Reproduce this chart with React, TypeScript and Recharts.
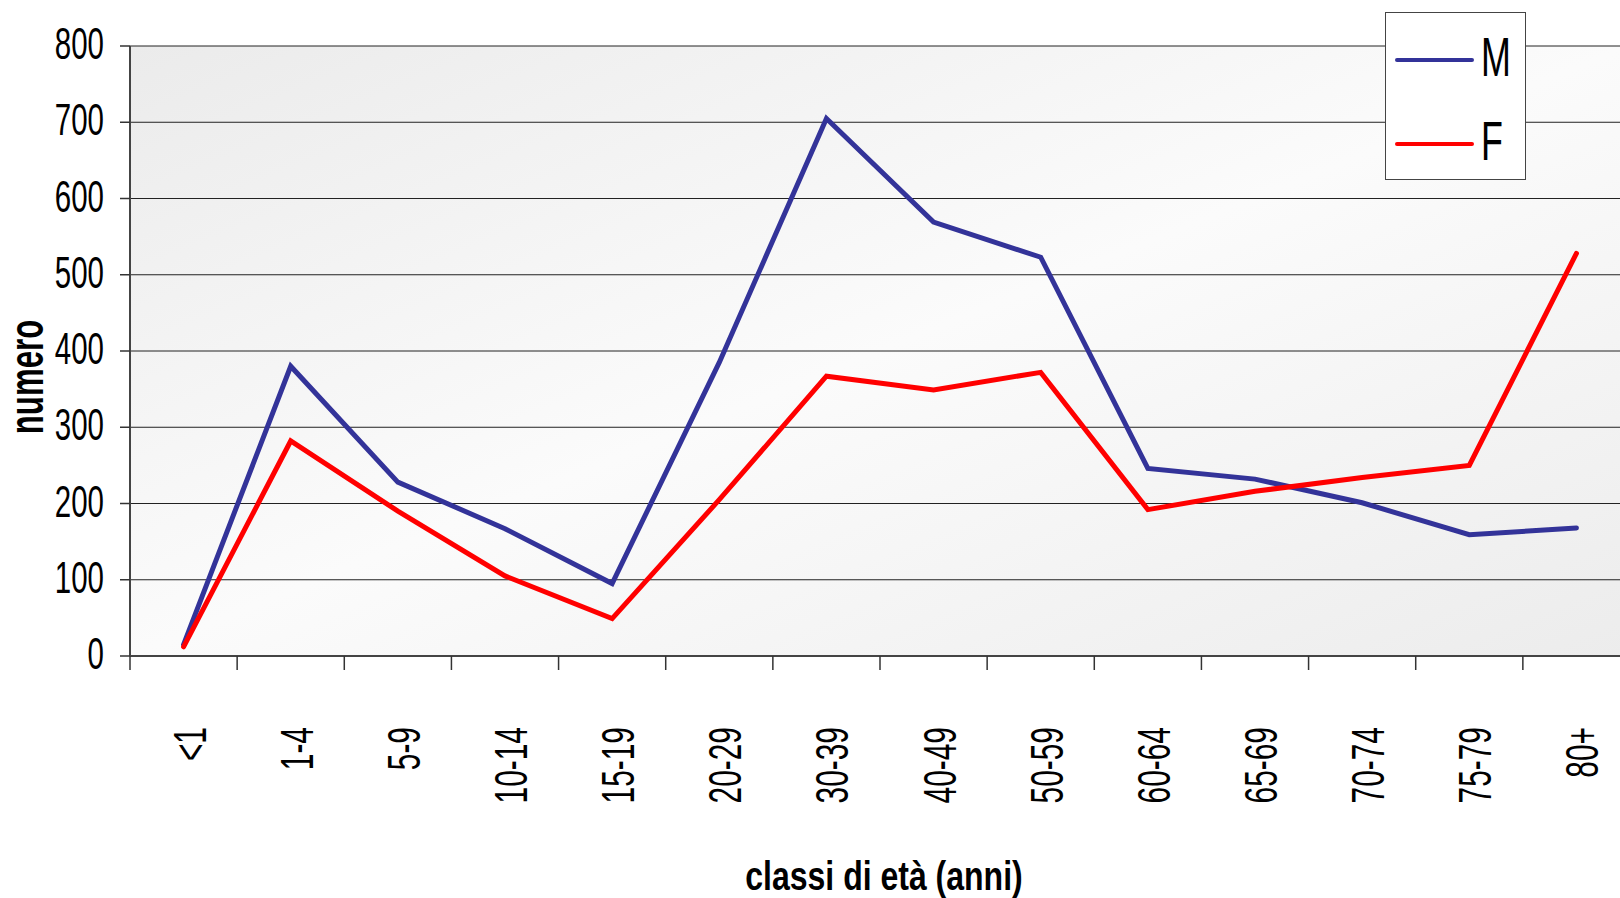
import React from 'react'
import { LineChart, Line, XAxis, YAxis, CartesianGrid, Legend, Label } from 'recharts'

const CLASSES = ['<1', '1-4', '5-9', '10-14', '15-19', '20-29', '30-39', '40-49', '50-59', '60-64', '65-69', '70-74', '75-79', '80+']
const MASCHI = [15, 380, 228, 167, 95, 385, 705, 569, 523, 246, 232, 201, 159, 168]
const FEMMINE = [12, 282, 190, 105, 49, 205, 367, 349, 372, 192, 216, 234, 250, 528]
const SERIES = ['M', 'F']
const Y_TICKS = [0, 100, 200, 300, 400, 500, 600, 700, 800]

const FONT = "'Liberation Sans', Arial, sans-serif"

const data = CLASSES.map((name, i) => ({ name, M: MASCHI[i], F: FEMMINE[i] }))

function YTick({ x, y, payload }: any) {
  return (
    <text
      transform={`translate(${x},${y + 13}) scale(0.67,1)`}
      textAnchor="end"
      fontSize={44}
      fontFamily={FONT}
      fill="#000"
    >
      {payload.value}
    </text>
  )
}

// category label plus the tick marks on the band edges (Excel style)
function XTick({ x, y, payload, index, visibleTicksCount }: any) {
  const half = payload.offset || 0
  const isLast = index === visibleTicksCount - 1
  return (
    <g>
      <line x1={x - half} x2={x - half} y1={y} y2={y + 14} stroke="#333" strokeWidth={1.5} />
      {isLast && <line x1={x + half} x2={x + half} y1={y} y2={y + 14} stroke="#333" strokeWidth={1.5} />}
      <text
        transform={`translate(${x + 22},${y + 71}) rotate(-90) scale(0.65,1)`}
        textAnchor="end"
        fontSize={46}
        fontFamily={FONT}
        fill="#000"
      >
        {payload.value}
      </text>
    </g>
  )
}

function LegendBox({ payload }: any) {
  const rows = [...(payload || [])].sort(
    (a: any, b: any) => SERIES.indexOf(a.value) - SERIES.indexOf(b.value)
  )
  return (
    <svg width={141} height={168} style={{ display: 'block' }}>
      <rect x={0.5} y={0.5} width={140} height={167} fill="#fff" stroke="#444" strokeWidth={1} />
      {rows.map((entry: any, i: number) => {
        const ly = 48 + i * 84
        return (
          <g key={entry.value}>
            <line x1={12} x2={87} y1={ly} y2={ly} stroke={entry.color} strokeWidth={4} strokeLinecap="round" />
            <text
              transform={`translate(96,${ly + 16}) scale(0.64,1)`}
              fontSize={56}
              fontFamily={FONT}
              fill="#000"
            >
              {entry.value}
            </text>
          </g>
        )
      })}
    </svg>
  )
}

export default function App() {
  return (
    <div
      style={{
        position: 'fixed',
        left: 0,
        top: 0,
        width: 1620,
        height: 898,
        overflow: 'hidden',
        background: '#fff',
      }}
    >
      <LineChart width={1630} height={898} data={data} margin={{ top: 46, right: 0, left: 0, bottom: 0 }}>
        <defs>
          <linearGradient id="plotBg" x1="0" y1="0" x2="1" y2="1">
            <stop offset="0%" stopColor="#ebebeb" />
            <stop offset="50%" stopColor="#fbfbfb" />
            <stop offset="100%" stopColor="#ececec" />
          </linearGradient>
        </defs>
        <CartesianGrid vertical={false} stroke="#222" strokeWidth={1} fill="url(#plotBg)" fillOpacity={1} />
        <XAxis
          dataKey="name"
          scale="band"
          interval={0}
          height={242}
          tickSize={0}
          tickMargin={0}
          tickLine={false}
          axisLine={{ stroke: '#444', strokeWidth: 2 }}
          tick={<XTick />}
        >
          <Label
            content={({ viewBox }: any) => (
              <text
                transform={`translate(${viewBox.x + 754},${viewBox.y + 234}) scale(0.8,1)`}
                textAnchor="middle"
                fontSize={40}
                fontWeight="bold"
                fontFamily={FONT}
                fill="#000"
              >
                classi di età (anni)
              </text>
            )}
          />
        </XAxis>
        <YAxis
          width={130}
          domain={[0, 800]}
          ticks={Y_TICKS}
          interval={0}
          tickSize={10}
          tickMargin={16}
          tick={<YTick />}
          tickLine={{ stroke: '#333', strokeWidth: 1.5 }}
          axisLine={{ stroke: '#444', strokeWidth: 2 }}
        >
          <Label
            content={({ viewBox }: any) => (
              <text
                transform={`translate(${viewBox.x + 43},${viewBox.y + 331}) rotate(-90) scale(0.65,1)`}
                textAnchor="middle"
                fontSize={48}
                fontWeight="bold"
                fontFamily={FONT}
                fill="#000"
              >
                numero
              </text>
            )}
          />
        </YAxis>
        <Legend
          layout="horizontal"
          verticalAlign="middle"
          align="center"
          content={<LegendBox />}
          wrapperStyle={{ position: 'absolute', left: 1385, top: 12, width: 141, height: 168 }}
        />
        <Line
          type="linear"
          dataKey="M"
          name="M"
          stroke="#333399"
          strokeWidth={5}
          strokeLinecap="round"
          dot={false}
          activeDot={false}
          isAnimationActive={false}
        />
        <Line
          type="linear"
          dataKey="F"
          name="F"
          stroke="#ff0000"
          strokeWidth={5}
          strokeLinecap="round"
          dot={false}
          activeDot={false}
          isAnimationActive={false}
        />
      </LineChart>
    </div>
  )
}
